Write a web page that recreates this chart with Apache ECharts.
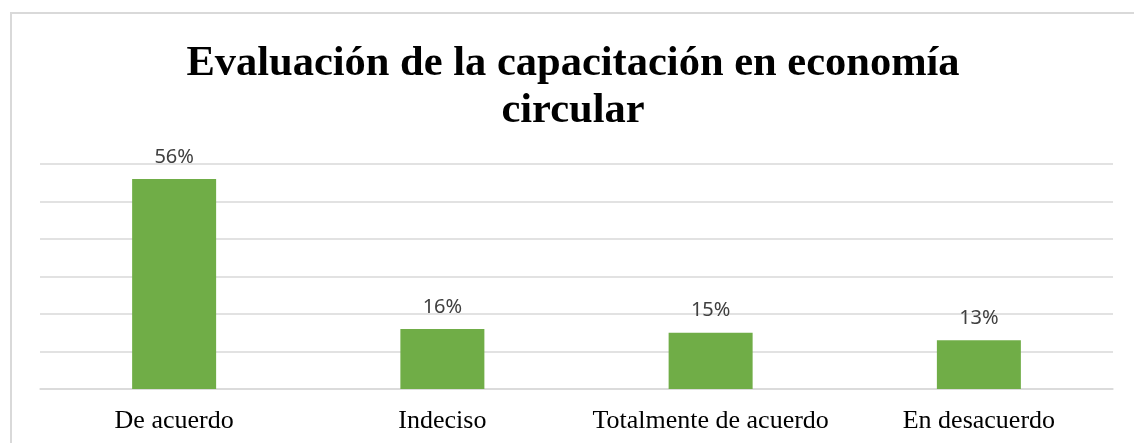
<!DOCTYPE html>
<html>
<head>
<meta charset="utf-8">
<script src="https://cdn.jsdelivr.net/npm/echarts@6/dist/echarts.min.js"></script>
<style>
  html, body { margin: 0; padding: 0; background: #fff; }
  #chart {
    position: absolute;
    left: 10px;
    top: 12px;
    width: 1124px;
    height: 431px;
    border-left: 2px solid #d9d9d9;
    border-top: 2px solid #d9d9d9;
    box-sizing: border-box;
  }
</style>
</head>
<body>
<div id="chart"></div>
<script>
// data
const categories = ["De acuerdo", "Indeciso", "Totalmente de acuerdo", "En desacuerdo"];
const values = [56, 16, 15, 13];

const chart = echarts.init(document.getElementById("chart"));

chart.setOption({
    animation: false,
    title: {
        text: "Evaluación de la capacitación en economía\ncircular",
        left: "center",
        top: 22,
        textStyle: {
            fontFamily: "Liberation Serif",
            fontWeight: "bold",
            fontSize: 42.5,
            lineHeight: 47,
            color: "#000"
        }
    },
    grid: {
        left: 28,
        right: 21,
        top: 150,
        bottom: 54
    },
    xAxis: {
        type: "category",
        data: categories,
        axisLine: { lineStyle: { color: "#d9d9d9", width: 1.5 } },
        axisTick: { show: false },
        axisLabel: {
            interval: 0,
            fontFamily: "Liberation Serif",
            fontSize: 26,
            color: "#000",
            margin: 19
        }
    },
    yAxis: {
        type: "value",
        min: 0,
        max: 60,
        interval: 10,
        axisLabel: { show: false },
        axisLine: { show: false },
        axisTick: { show: false },
        splitLine: { lineStyle: { color: "#d9d9d9", width: 1.5 } }
    },
    series: [{
        type: "bar",
        data: values,
        barWidth: 84,
        itemStyle: { color: "#70ad47" },
        label: {
            show: true,
            position: "top",
            distance: 12,
            formatter: "{c}%",
            fontFamily: "Noto Sans",
            fontSize: 20,
            color: "#404040"
        }
    }]
});
</script>
</body>
</html>
